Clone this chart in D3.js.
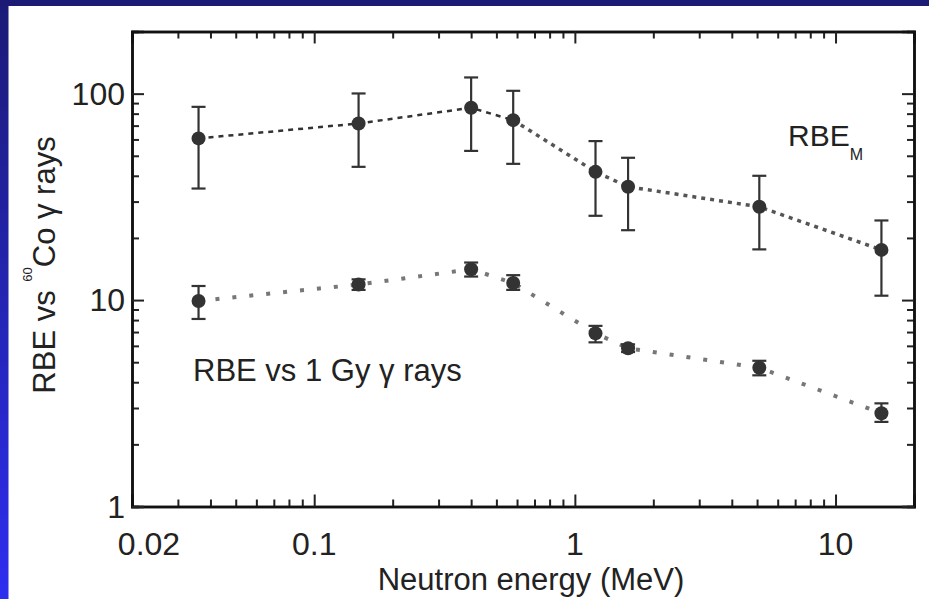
<!DOCTYPE html>
<html>
<head>
<meta charset="utf-8">
<script src="https://cdn.jsdelivr.net/npm/d3@7"></script>
<style>
  body { margin: 0; background: #fff; }
  svg { display: block; font-family: "Liberation Sans", Arial, Helvetica, sans-serif; }
</style>
</head>
<body>
<div id="chart"></div>
<script>
// Data
const energies = [0.036, 0.148, 0.4, 0.58, 1.2, 1.6, 5.1, 15];
const rbeM = [60.7, 71.7, 85.4, 74.4, 41.8, 35.4, 28.3, 17.5];
const rbeMHi = [86.3, 100.2, 119.8, 103.2, 58.9, 48.9, 40.0, 24.3];
const rbeMLo = [34.7, 44.2, 52.8, 45.7, 25.6, 21.8, 17.6, 10.5];
const rbe1Gy = [9.9, 11.9, 14.1, 12.1, 6.9, 5.84, 4.7, 2.83];
const rbe1GyHi = [11.7, 12.6, 15.2, 13.2, 7.5, 6.1, 5.08, 3.16];
const rbe1GyLo = [8.1, 11.2, 13.0, 11.2, 6.24, 5.6, 4.32, 2.57];

const xTickValues = [0.02, 0.1, 1, 10];
const xTickLabels = ["0.02", "0.1", "1", "10"];
const yTickValues = [1, 10, 100];
const yTickLabels = ["1", "10", "100"];

const W = 929, H = 599;
const plot = { left: 132, right: 914, top: 31.5, bottom: 506.5 };

const svg = d3.select("#chart").append("svg")
    .attr("width", W)
    .attr("height", H);

// slide background: blue strips on top and left
const grad = svg.append("defs").append("linearGradient")
    .attr("id", "side")
    .attr("x1", 0).attr("y1", 0).attr("x2", 0).attr("y2", 1);
grad.append("stop").attr("offset", "0%").attr("stop-color", "#1b1b76");
grad.append("stop").attr("offset", "100%").attr("stop-color", "#2e2ef0");

svg.append("rect").attr("width", W).attr("height", H).attr("fill", "#fff");
svg.append("rect").attr("x", 0).attr("y", 0).attr("width", 8.5).attr("height", H).attr("fill", "url(#side)");
svg.append("rect").attr("x", 0).attr("y", 0).attr("width", W).attr("height", 6).attr("fill", "#1b1b76");

// Scales
const x = d3.scaleLog().domain([0.02, 20]).range([plot.left, plot.right]);
const y = d3.scaleLog().domain([1, 200]).range([plot.bottom, plot.top]);

const minorX = x.ticks().filter(v => !xTickValues.some(t => Math.abs(t - v) < 1e-9));
const minorY = y.ticks().filter(v => !yTickValues.some(t => Math.abs(t - v) < 1e-9));

// Axes on all four sides, ticks pointing inward
function drawAxis(axisFn, scale, pos, minor, major) {
    [[minor, 7], [major, 12]].forEach(([vals, len]) => {
        const g = svg.append("g").attr("transform", pos)
            .call(axisFn(scale).tickValues(vals).tickSize(-len).tickFormat(""));
        g.select(".domain").attr("stroke", "#111").attr("stroke-width", 2.5);
        g.selectAll(".tick line").attr("stroke", "#222").attr("stroke-width", 2);
    });
}
drawAxis(d3.axisBottom, x, `translate(0,${plot.bottom})`, minorX, xTickValues);
drawAxis(d3.axisTop, x, `translate(0,${plot.top})`, minorX, xTickValues);
drawAxis(d3.axisLeft, y, `translate(${plot.left},0)`, minorY, yTickValues);
drawAxis(d3.axisRight, y, `translate(${plot.right},0)`, minorY, yTickValues);

// Tick labels
svg.selectAll(".xlab")
    .data(xTickValues)
    .enter().append("text")
    .attr("x", (d, i) => x(d) + (i === 0 ? 17 : 0))
    .attr("y", plot.bottom + 48.5)
    .attr("text-anchor", "middle")
    .style("font-size", "32px")
    .attr("fill", "#222")
    .text((d, i) => xTickLabels[i]);

svg.selectAll(".ylab")
    .data(yTickValues)
    .enter().append("text")
    .attr("x", plot.left - 7)
    .attr("y", d => y(d) + 11)
    .attr("text-anchor", "end")
    .style("font-size", "32px")
    .attr("fill", "#222")
    .text((d, i) => yTickLabels[i]);

// Axis titles
svg.append("text")
    .attr("x", 531)
    .attr("y", 590)
    .attr("text-anchor", "middle")
    .style("font-size", "31px")
    .attr("fill", "#222")
    .text("Neutron energy (MeV)");

const yt = svg.append("text")
    .attr("transform", "translate(55,265) rotate(-90)")
    .attr("text-anchor", "middle")
    .style("font-size", "31px")
    .attr("fill", "#222");
yt.append("tspan").text("RBE vs ");
yt.append("tspan").attr("dy", -23).style("font-size", "13px").text("60");
yt.append("tspan").attr("dy", 23).text("Co \u03b3 rays");

// Series
const upper = energies.map((e, i) => ({ e, v: rbeM[i], hi: rbeMHi[i], lo: rbeMLo[i] }));
const lower = energies.map((e, i) => ({ e, v: rbe1Gy[i], hi: rbe1GyHi[i], lo: rbe1GyLo[i] }));

const line = d3.line().x(d => x(d.e)).y(d => y(d.v));

svg.append("path")
    .datum(upper.slice(0, 4))
    .attr("d", line)
    .attr("fill", "none")
    .attr("stroke", "#333")
    .attr("stroke-width", 2.5)
    .attr("stroke-dasharray", "5,5");

svg.append("path")
    .datum(upper.slice(3))
    .attr("d", line)
    .attr("fill", "none")
    .attr("stroke", "#555")
    .attr("stroke-width", 3.5)
    .attr("stroke-dasharray", "4,5");

svg.append("path")
    .datum(lower)
    .attr("d", line)
    .attr("fill", "none")
    .attr("stroke", "#777")
    .attr("stroke-width", 4)
    .attr("stroke-dasharray", "4,13");

function drawPoints(data) {
    const g = svg.append("g");
    g.selectAll(".eb")
        .data(data)
        .enter().append("line")
        .attr("x1", d => x(d.e)).attr("x2", d => x(d.e))
        .attr("y1", d => y(d.hi)).attr("y2", d => y(d.lo))
        .attr("stroke", "#333").attr("stroke-width", 2.2);
    ["hi", "lo"].forEach(k => {
        g.selectAll(".cap-" + k)
            .data(data)
            .enter().append("line")
            .attr("x1", d => x(d.e) - 7).attr("x2", d => x(d.e) + 7)
            .attr("y1", d => y(d[k])).attr("y2", d => y(d[k]))
            .attr("stroke", "#333").attr("stroke-width", 2.2);
    });
    g.selectAll("circle")
        .data(data)
        .enter().append("circle")
        .attr("cx", d => x(d.e))
        .attr("cy", d => y(d.v))
        .attr("r", 7)
        .attr("fill", "#333");
}
drawPoints(upper);
drawPoints(lower);

// Series labels
const lm = svg.append("text")
    .attr("x", 788)
    .attr("y", 146)
    .style("font-size", "30px")
    .attr("fill", "#222");
lm.append("tspan").text("RBE");
lm.append("tspan").attr("dy", 14).style("font-size", "16px").text("M");

svg.append("text")
    .attr("x", 193)
    .attr("y", 381)
    .style("font-size", "31px")
    .attr("fill", "#222")
    .text("RBE vs 1 Gy \u03b3 rays");
</script>
</body>
</html>
